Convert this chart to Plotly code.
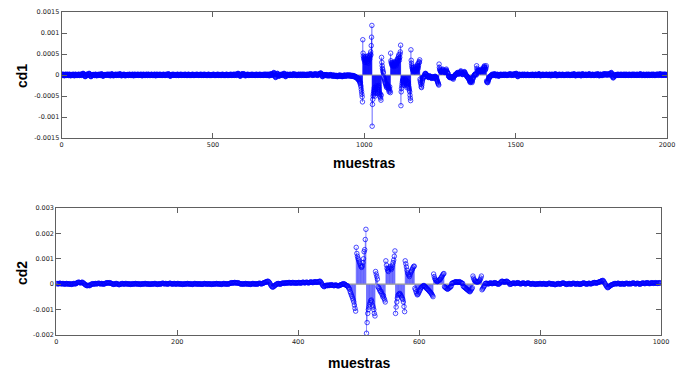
import sys
import plotly.graph_objects as go

# ---------------- data (values in units of 1e-5) ----------------
cd1_e5 = [
    # 0-949 quiet part
    2,1,0,-1,1,2,1,0,-1,-2, -1,0,1,2,1,0,-1,0,1,2, 1,0,-1,-1,0,1,2,1,0,-1, -2,-1,0,1,0,-1,0,1,2,1, 0,-1,-2,-1,0,1,2,1,0,-1,
    0,1,0,-1,0,1,2,1,0,-1, -1,0,1,2,1,0,-1,0,1,2, 3,4,3,2,1,-1,-2,-3,-4,-3, -2,0,1,2,1,0,-1,0,1,2, 3,4,3,2,0,-2,-3,-4,-3,-1,
    0,1,0,-1,0,1,1,0,-1,-1, 0,1,2,1,0,-1,-2,-1,0,1, 0,-1,0,1,2,1,0,-1,-1,0, 1,2,3,2,1,-1,-2,-3,-2,-1, 0,1,0,-1,0,1,0,-1,0,1,
    1,2,1,0,-1,0,1,2,1,0, -1,-2,-1,0,1,2,3,2,1,0, -1,-2,-1,0,1,0,-1,0,1,2, 1,0,-1,-1,0,1,2,1,0,-1, 0,1,2,3,2,1,0,-1,-2,-1,
    0,1,0,-1,0,1,2,1,0,-1, -2,-1,0,1,0,-1,0,1,1,0, -1,-1,0,1,2,1,0,-1,0,1, 0,-1,0,1,2,1,0,-1,-2,-1, 0,1,2,1,0,-1,0,1,0,-1,
    0,1,2,1,0,-1,0,1,0,-1, 0,1,2,1,0,-1,-2,-1,0,1, 2,1,0,-1,0,1,0,-1,0,1, 2,1,0,-1,-1,0,1,2,1,0, -1,0,1,0,-1,0,1,2,1,0,
    -1,0,1,0,-1,0,1,2,1,0, -1,-2,-1,0,1,2,1,0,-1,0, 1,0,-1,0,1,2,1,0,-1,-1, 0,1,0,-1,0,1,2,1,0,-1, 0,1,0,-1,0,1,2,1,0,-1,
    0,1,2,3,2,1,0,-1,-2,-3, -2,-1,0,1,0,-1,0,1,2,1, 0,-1,0,1,0,-1,0,1,1,0, -1,0,1,2,1,0,-1,-1,0,1, 0,-1,0,1,2,1,0,-1,0,1,
    0,-1,0,1,0,-1,0,1,2,1, 0,-1,-1,0,1,0,-1,0,1,2, 1,0,-1,0,1,0,-1,0,1,0, -1,0,1,2,1,0,-1,0,1,0, -1,0,1,0,-1,0,1,2,1,0,
    0,1,0,-1,0,1,0,-1,0,1, 2,1,0,-1,0,1,0,-1,-1,0, 1,2,1,0,-1,0,1,0,-1,0, 1,0,-1,0,1,2,1,0,-1,0, 1,0,-1,0,1,0,-1,0,1,0,
    0,1,2,1,0,-1,0,1,0,-1, 0,1,0,-1,0,1,2,1,0,-1, 0,1,0,-1,-1,0,1,0,-1,0, 1,2,1,0,-1,0,1,0,-1,0, 1,0,-1,0,1,2,1,0,-1,0,
    1,0,-1,0,1,0,-1,0,1,2, 1,0,-1,0,1,0,-1,0,1,2, 1,0,-1,0,1,2,1,0,-1,0, 1,2,3,4,3,2,1,0,-1,-2, -3,-2,-1,0,1,2,3,2,1,0,
    1,2,3,2,1,0,-1,-2,-1,0, 1,0,-1,0,1,2,1,0,-1,0, 1,0,-1,0,1,0,-1,0,1,2, 1,0,-1,0,1,0,-1,0,1,0, -1,0,1,2,1,0,-1,0,1,0,
    1,0,-1,0,1,2,1,0,-1,0, 1,0,-1,0,1,0,-1,0,1,2, 1,0,-1,0,1,2,1,0,-1,-1, 0,1,2,1,0,-1,-2,-1,0,1, 2,3,2,1,0,-1,0,1,2,3,
    4,6,5,3,1,-2,-4,-6,-5,-3, -1,1,3,4,3,1,-1,-2,-3,-2, -1,0,1,0,-1,0,1,2,1,0, -1,0,1,2,3,4,3,1,-1,-3, -4,-3,-1,0,1,2,1,0,-1,0,
    1,0,-1,0,1,2,1,0,-1,0, 1,0,-1,0,1,2,3,2,1,0, -1,0,1,2,1,0,-1,0,1,0, -1,0,1,2,1,0,-1,0,1,2, 1,0,-1,0,1,2,1,0,-1,0,
    1,2,1,0,-1,0,1,0,-1,0, 1,2,1,0,-1,0,1,2,1,0, 1,2,3,2,1,0,1,2,1,0, -1,0,1,2,1,0,1,2,3,2, 1,0,1,2,1,0,-1,0,1,2,
    3,2,1,2,3,4,5,4,3,1, -1,-3,-4,-3,-1,0,1,0,-1,0, 1,0,-1,0,1,0,-1,-2,-1,0, -1,-2,-1,0,-1,-2,-1,0,1,0, -1,-2,-1,0,-1,-2,-3,-2,-1,0,
    -1,-2,-3,-2,-1,-2,-3,-2,-1,-2, -3,-4,-3,-2,-1,-2,-3,-2,-1,0, -1,-2,-3,-2,-1,-2,-3,-4,-3,-2, -1,-2,-3,-2,-1,0,-1,-2,-3,-2, -1,-2,-1,0,-1,-2,-1,0,-1,-2,
    # 950-1449 active part
    -1,-2,-1,0,-1,-2,-3,-2,-1,-2, -3,-2,-1,-2,-3,-4,-3,-2,-3,-4, -5,-4,-5,-6,-5,-6,-8,-7,-9,-10, -8,-12,-10,-14,-12,-16,
    -20,-18,-24,-28,-34,-40,-46,-52,-64,
    84,52,45,40,36,42,38,30,34,40, 44,38,35,30,42,45,38,32,28,35, 40,46,42,38,44,50,55,48,70,90, 118,
    -122,-70,-58,-50,-45,-40,-35,-30,-38,-45, -50,-42,-36,-30,-26,-32,-38,-44,-40,-34, -28,-25,-30,-36,-42,-48,-52,-45,-55,-60, -48,
    42,30,22,16,12,8,5,
    -5,-8,-10,-12,-15,-18,-20,-22,-25,-28, -30,-26,-22,-25,-28,-30,-33,-36,-40,-32, -28,-38,-42,
    52,34,30,28,25,22,24,28,30,26, 22,20,24,28,32,30,28,25,22,26, 30,34,38,36,32,40,44,48,40,35, 42,50,55,71,
    -73,-40,-32,-26,-20,-15,-12,-10,-14,-18, -22,-25,-20,-16,-12,-10,-14,-18,-22,-26, -30,-24,-20,-16,-18,-22,-28,-32,-36,-40, -48,-55,-61,
    60,35,28,22,18,15,12,10,14,18, 12,10,8,12,16,20,15,12,10,14, 18,22,26,20,16,22,28,32,30,36,
    -10,-14,-18,-22,-28,-30,-24,-18,-14,-10, -8,-6,-5,-4,-3,-2,
    2,3,4,3,2,1,0,-1,-2,-3, -4,-5,-6,-5,-4,-3,-2,-3,-4,-5, -6,-7,-8,-7,-6,-5,-4,-5,-6,-7, -8,-6,-5,-4,-3,-4,-5,-6,-8,-10, -12,-14,-16,-18,-20,-22,-24,
    26,18,14,12,10,9,8,7,8,9, 10,12,14,12,10,9,8,7,6,7, 8,9,10,12,14,10,8,6,5,4, 3,
    -2,-3,-4,-5,-6,-5,-4,-5,-6,-7, -6,-5,-4,-5,-6,-8,-10,-6,-4,-3, -2,-1,0,1,2,1,
    2,3,4,5,6,5,4,3,2,3, 4,5,6,7,8,10,7,5,3,2, 1,2,3,4,5,6,7,8,6,4, 2,1,0,-1,-2,-3,-4,-5,-6,-7,
    -8,-9,-10,-12,-14,-16,-18,-16,-14,-12, -14,-16,-18,-14,-10,-8,-6,
    -4,-2,-1,0,1,2,3,2,1,0,
    22,16,12,10,9,8,9,10,12,11, 10,9,8,9,10,12,14,12,10,9, 10,12,14,16,18,20,22,18,14,12, 14,18,22,
    -14,-16,-18,-15,-18,-14,-12,-10,-8,-6, -5,-4,-3,-2,-3,-2,-1,
    0,1,2,1,0,-1,0,1,2,3, 2,1,0,-1,-2,-1,0,1,2,1, 0,-1,-2,-3,-2,-1,0,1,0,
    # 1450-1999 quiet part
    1,2,1,0,-1,0,1,0,-1,0, 1,2,1,0,-1,0,1,2,1,0, -1,0,1,0,-1,0,1,2,1,0, 1,2,3,2,1,0,-1,0,1,2, 1,0,-1,0,1,2,3,2,1,0,
    2,3,4,3,1,-1,-3,-4,-3,-1, 0,1,2,1,0,-1,0,1,0,-1, 0,1,2,1,0,-1,-1,0,1,2, 1,0,-1,0,1,0,-1,0,1,2, 1,0,-1,0,1,0,-1,0,1,0,
    1,0,-1,0,1,2,1,0,-1,0, 1,0,-1,-1,0,1,2,1,0,-1, 0,1,0,-1,0,1,2,3,2,1, 0,-1,-2,-1,0,1,0,-1,0,1, 2,1,0,-1,0,1,0,-1,0,1,
    0,1,2,1,0,-1,0,1,0,-1, 0,1,2,1,0,-1,-2,-1,0,1, 2,1,0,-1,0,1,0,-1,0,1, 2,3,2,1,0,-1,-2,-1,0,1, 0,-1,0,1,2,1,0,-1,0,1,
    1,0,-1,0,1,2,1,0,-1,0, 1,0,-1,0,1,0,-1,0,1,2, 1,0,-1,0,1,2,1,0,-1,0, 1,0,-1,-1,0,1,2,1,0,-1, 0,1,2,3,2,1,0,-1,-2,-1,
    0,1,0,-1,0,1,2,1,0,-1, 0,1,2,1,0,-1,-2,-1,0,1, 2,3,2,1,0,-1,0,1,0,-1, 0,1,2,1,0,-1,0,1,0,-1, 0,1,2,3,2,1,0,-1,0,1,
    0,-1,0,1,2,1,0,-1,0,1, 0,-1,0,1,2,1,0,-1,0,1, 2,3,2,1,0,-1,-2,-1,0,1, 2,1,0,-1,0,1,0,-1,0,1, 2,3,2,1,0,1,2,3,2,1,
    0,1,2,1,0,1,2,3,2,1, 0,1,2,3,4,5,6,4,2,-1, -3,-5,-7,-6,-4,-2,0,1,0,-1, -2,-1,0,1,0,-1,0,1,2,1, 0,-1,0,1,0,-1,0,1,2,1,
    0,-1,0,1,0,-1,0,1,2,1, 0,-1,-1,0,1,2,1,0,-1,0, 1,0,-1,0,1,2,1,0,-1,0, 1,0,-1,0,1,2,1,0,-1,0, 1,2,1,0,-1,0,1,0,-1,0,
    1,2,1,0,-1,0,1,0,-1,0, 1,2,3,2,1,0,-1,0,1,0, -1,0,1,2,1,0,-1,0,1,0, -1,0,1,2,1,0,-1,-1,0,1, 2,1,0,-1,0,1,0,-1,0,1,
    2,1,0,-1,0,1,2,1,0,-1, 0,1,0,-1,0,1,2,1,0,1, 2,1,0,-1,0,1,2,3,2,1, 0,-1,0,1,2,1,0,-1,0,1, 2,1,0,1,2,1,0,-1,0,1,
]

cd2_e5 = [
    # 0-449 quiet part
    2,3,2,1,2,3,4,3,2,1, 2,3,2,1,0,1,2,3,2,1, 0,1,2,1,0,-1,0,1,2,3, 2,1,2,3,5,6,7,8,7,6, 5,6,7,8,6,4,2,0,-2,-4,
    -5,-6,-5,-4,-5,-6,-4,-2,0,1, 2,1,0,1,2,3,2,1,2,3, 4,3,2,1,2,3,2,1,0,1, 2,3,4,5,6,5,4,5,6,5, 4,3,2,1,0,-1,0,1,2,3,
    2,1,0,-1,-2,-1,0,1,2,3, 2,1,0,1,2,3,2,1,0,1, 2,1,0,-1,0,1,2,1,0,1, 2,3,2,1,0,1,2,1,0,-1, 0,1,2,1,0,1,2,3,2,1,
    0,1,2,1,0,-1,0,1,2,1, 0,1,2,3,2,1,0,-1,0,1, 2,1,0,1,2,3,4,3,2,1, 2,3,2,1,0,1,2,3,4,3, 2,1,0,1,2,3,2,1,0,1,
    2,3,2,1,0,1,2,1,0,-1, 0,1,2,1,0,1,2,3,2,1, 0,1,2,1,0,-1,0,1,2,3, 2,1,0,1,2,1,0,1,2,1, 0,-1,0,1,2,3,2,1,0,1,
    2,1,0,1,2,1,0,-1,0,1, 2,1,0,1,2,3,2,1,0,1, 2,1,0,-1,0,1,2,3,2,1, 0,1,2,1,0,1,2,3,4,5, 6,5,4,5,6,7,6,5,4,5,
    6,5,4,3,2,1,0,1,2,1, 0,1,2,3,2,1,0,1,2,1, 0,-1,0,1,2,3,2,1,0,1, 2,1,0,1,2,3,4,3,2,1, 2,3,4,5,6,7,8,9,10,11,
    12,10,8,4,0,-4,-8,-10,-12,-10, -8,-6,-4,-2,0,1,2,3,2,1, 0,1,2,3,4,5,4,3,4,5, 6,5,4,5,6,7,6,5,4,5, 6,7,6,5,4,5,6,5,4,5,
    6,7,6,5,4,5,6,7,8,7, 6,5,6,7,8,7,6,5,6,7, 8,9,8,7,6,7,8,9,10,9, 8,7,8,9,10,11,12,10,6,2, -2,-6,-8,-10,-8,-6,-5,-4,-5,-6,
    # 450-749 active part
    -3,-4,-5,-4,-3,-2,-3,-4,-5,-6, -5,-4,-3,-4,-5,-6,-7,-6,-5,-4, -3,-2,-1,0,1,2,1,0,-2,-4, -5,-6,-8,
    -12,-16,-20,-29,-35,-42,-48,-55,-62,-70, -82,-95,-106,
    145,121,110,101,95,88,82,75,69,66, 72,85,100,128,136,176,216,
    -193,-151,-115,-100,-90,-80,-72,-65,-62,-70, -82,-90,-100,-115,-125,
    50,40,30,20,
    -10,-14,-18,-24,-30,-28,-36,-42,-50,-45, -55,-62,-70,
    92,75,62,55,50,60,65,70,62,58, 65,75,85,95,110,131,
    -115,-90,-70,-55,-45,-40,-38,-36,-40,-45, -50,-55,-60,-70,-88,-108,
    92,80,68,55,45,40,35,30,38,45, 50,55,60,65,70,71,
    -16,-22,-30,-36,-42,-40,-35,-30,-25,-20, -15,-12,-10,-8,-6,-5,-8,-10,-12,-15, -18,-20,-22,-25,-28,-30,-33,-36,-40,-44, -49,
    40,30,22,18,15,12,10,12,14,16, 18,20,24,28,32,36,40,42,
    -10,-12,-14,-16,-18,-20,-18,-16,-14,-12, -10,-8,
    3,4,5,6,7,8,9,10,9,8, 7,8,9,10,8,6,5,4,3,
    -8,-10,-12,-14,-16,-18,-20,-22,-24,-26, -28,-30,-26,-22,-18,-14,
    32,24,18,14,12,10,9,9,9,10, 12,14,18,24,32,
    -22,-18,-14,-10,-6,
    2,3,4,3,2,1,2,3,4,5, 4,3,2,3,4,5,6,5,4,3, 2,1,0,1,2,
    6,8,10,12,11,10,9,8,9,10, 11,12,10,8,6,4,
    # 750-999 quiet part
    -1,0,1,2,3,4,5,4,3,2, 3,4,5,6,5,4,3,2,1,2, 3,4,5,4,3,2,1,2,3,4, 5,4,3,2,1,0,1,2,3,2, 1,0,-1,0,1,2,1,0,1,2,
    3,2,1,0,1,2,3,2,1,0, -1,0,1,2,3,4,3,2,1,0, 1,2,1,0,-1,-2,-1,0,1,2, 3,2,1,0,1,2,3,4,5,4, 3,2,1,0,-1,0,1,2,3,2,
    1,0,1,2,3,4,3,2,1,0, 1,2,3,2,1,0,-1,0,1,2, 3,4,5,4,3,2,1,0,1,2, 3,4,3,2,1,2,3,4,5,6, 7,6,5,4,5,6,7,8,9,10,
    11,12,13,14,15,12,8,4,0,-4, -8,-12,-14,-12,-10,-8,-6,-4,-3,-2, -1,0,1,2,3,2,1,2,3,4, 3,2,1,0,1,2,3,2,1,0, 1,2,3,4,3,2,1,2,3,2,
    1,2,3,4,5,4,3,2,1,2, 3,4,3,2,1,0,1,2,3,4, 5,4,3,2,3,4,5,6,5,4, 3,2,3,4,5,6,5,4,3,4, 5,6,5,4,3,4,5,6,5,4,
]

x1_ticks = [0, 500, 1000, 1500, 2000]
y1_ticks = [-0.0015, -0.001, -0.0005, 0, 0.0005, 0.001, 0.0015]
y1_labels = ["-0.0015", "-0.001", "-0.0005", "0", "0.0005", "0.001", "0.0015"]
x2_ticks = [0, 200, 400, 600, 800, 1000]
y2_ticks = [-0.002, -0.001, 0, 0.001, 0.002, 0.003]
y2_labels = ["-0.002", "-0.001", "0", "0.001", "0.002", "0.003"]

print("lengths", len(cd1_e5), len(cd2_e5), file=sys.stderr)

cd1 = [v * 1e-5 for v in cd1_e5]
cd2 = [v * 1e-5 for v in cd2_e5]

W, H = 683, 372
# plot boxes in pixels: (left, right, top, bottom)
box1 = (61.6, 667.0, 12.0, 138.0)
box2 = (56.3, 661.0, 208.0, 335.0)


def dom_x(b):
    return [b[0] / W, b[1] / W]


def dom_y(b):
    return [(H - b[3]) / H, (H - b[2]) / H]


BLUE = "#0000ff"
fig = go.Figure()


def add_stem(values, xa, ya, xmax, stem_color):
    sx, sy = [], []
    for i, v in enumerate(values):
        sx += [i, i, None]
        sy += [0, v, None]
    fig.add_trace(go.Scatter(x=sx, y=sy, mode="lines", xaxis=xa, yaxis=ya,
                             line=dict(color=stem_color, width=0.8),
                             hoverinfo="skip", showlegend=False))
    fig.add_trace(go.Scatter(x=[0, xmax], y=[0, 0], mode="lines", xaxis=xa, yaxis=ya,
                             line=dict(color="#9a9a9a", width=1.2),
                             hoverinfo="skip", showlegend=False))
    fig.add_trace(go.Scatter(x=list(range(len(values))), y=values, mode="markers",
                             xaxis=xa, yaxis=ya,
                             marker=dict(symbol="circle-open", size=4.5, color=BLUE,
                                         line=dict(width=0.7, color=BLUE)),
                             hoverinfo="skip", showlegend=False))


add_stem(cd1, "x", "y", 2000, "rgba(0,0,255,0.75)")
add_stem(cd2, "x2", "y2", 1000, "rgba(0,0,255,0.55)")

tickfont = dict(family="DejaVu Sans", size=6.5, color="#222222")
axis_common = dict(showgrid=False, zeroline=False, showline=True, linecolor="#606060",
                   linewidth=1, mirror="allticks", ticks="inside", ticklen=5,
                   tickcolor="#606060", tickwidth=1, tickfont=tickfont, fixedrange=True,
                   automargin=False)

fig.update_layout(
    width=W, height=H, margin=dict(l=0, r=0, t=0, b=0, autoexpand=False),
    paper_bgcolor="white", plot_bgcolor="white", showlegend=False, hovermode=False,
    xaxis=dict(domain=dom_x(box1), range=[0, 2000], tickvals=x1_ticks,
               ticktext=[str(t) for t in x1_ticks], anchor="y", **axis_common),
    yaxis=dict(domain=dom_y(box1), range=[-0.0015, 0.0015], tickvals=y1_ticks,
               ticktext=y1_labels, anchor="x", **axis_common),
    xaxis2=dict(domain=dom_x(box2), range=[0, 1000], tickvals=x2_ticks,
                ticktext=[str(t) for t in x2_ticks], anchor="y2", **axis_common),
    yaxis2=dict(domain=dom_y(box2), range=[-0.002, 0.003], tickvals=y2_ticks,
                ticktext=y2_labels, anchor="x2", **axis_common),
)

title_font = dict(family="Liberation Sans", size=14, color="black")
ann_common = dict(showarrow=False, font=title_font, xanchor="center", yanchor="middle")
fig.add_annotation(text="<b>cd1</b>", xref="paper", yref="paper", x=22 / W,
                   y=(H - 76) / H, textangle=-90, **ann_common)
fig.add_annotation(text="<b>cd2</b>", xref="paper", yref="paper", x=22 / W,
                   y=(H - 273) / H, textangle=-90, **ann_common)
fig.add_annotation(text="<b>muestras</b>", xref="x domain", yref="paper", x=0.5,
                   y=(H - 163) / H, **ann_common)
fig.add_annotation(text="<b>muestras</b>", xref="x2 domain", yref="paper", x=0.5,
                   y=(H - 363) / H, **ann_common)

fig.write_html("out.html", config={"displayModeBar": False, "staticPlot": True},
               post_script="document.body.style.margin='0';document.body.style.overflow='hidden';")
